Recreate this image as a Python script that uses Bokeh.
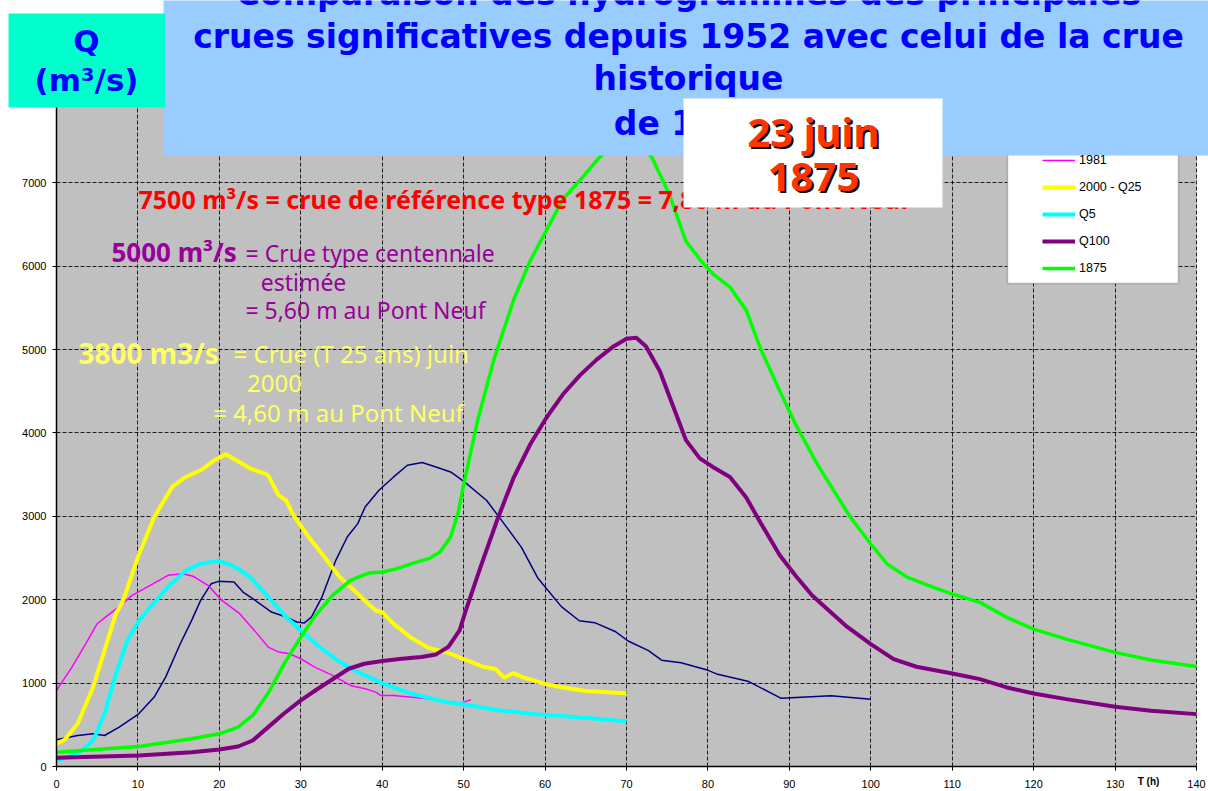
from bokeh.plotting import figure
from bokeh.models import Range1d, FixedTicker, BoxAnnotation, Label, Legend, LegendItem, Grid
from bokeh.embed import file_html
from bokeh.resources import INLINE

# ---------------- data ----------------
x_ticks = [0, 10, 20, 30, 40, 50, 60, 70, 80, 90, 100, 110, 120, 130, 140]
y_ticks = [0, 1000, 2000, 3000, 4000, 5000, 6000, 7000]

t_1952 = [0, 2.6, 4.5, 5.9, 7.7, 10.1, 12, 13.4, 15.2, 16.6, 17.7, 19, 19.9, 21.8, 22.9, 24.7,
          26.4, 28.2, 29.5, 30.4, 31.3, 32.6, 34.3, 35.7, 37, 37.9, 39.6, 41.4, 43.1, 44.9, 46.6,
          48.4, 50.1, 52.8, 54.5, 57.1, 59.1, 62, 64.2, 66.1, 68.6, 70.2, 72.7, 74.3, 76.7, 79.8,
          81.2, 84.9, 89, 95.1, 100]
q_1952 = [320, 372, 392, 372, 472, 632, 832, 1072, 1472, 1752, 1992, 2192, 2220, 2212, 2092, 1972,
          1852, 1792, 1732, 1720, 1792, 2032, 2472, 2752, 2912, 3112, 3312, 3472, 3612, 3644, 3592,
          3532, 3412, 3192, 2972, 2628, 2261, 1917, 1748, 1725, 1619, 1505, 1390, 1275, 1243, 1161,
          1105, 1023, 817, 849, 807]

t_1981 = [0, 1.9, 3.6, 5, 6.3, 7.6, 9.3, 11.5, 13.7, 15.5, 16.8, 18.6, 20.3, 22.5, 24.3, 26, 27.3,
          28.6, 30, 31.7, 33.9, 36.1, 37.9, 39.2, 39.8, 41.4, 45.7, 48.8, 50, 50.9]
q_1981 = [912, 1192, 1472, 1712, 1812, 1912, 2052, 2172, 2292, 2312, 2280, 2172, 1992, 1832, 1632,
          1432, 1372, 1352, 1292, 1192, 1092, 972, 932, 892, 852, 852, 812, 752, 772, 800]

t_2000 = [0, 1, 2.6, 4.5, 5.9, 7.3, 8.2, 10, 12, 14.2, 15.9, 17.7, 19.4, 20.8, 23.8, 25.6, 26, 27.3,
          28.2, 29.1, 30.4, 31.3, 32.6, 34.8, 37, 38.3, 39.2, 40, 41.4, 43.6, 45.7, 47.9, 50.1, 52.3,
          53.9, 55, 56.1, 57.2, 60, 62, 65, 70]
q_2000 = [272, 320, 512, 952, 1392, 1832, 1992, 2512, 2992, 3352, 3472, 3552, 3672, 3744, 3572, 3512,
          3490, 3250, 3190, 3010, 2830, 2710, 2550, 2270, 2070, 1950, 1870, 1850, 1710, 1540, 1420,
          1370, 1285, 1200, 1170, 1064, 1120, 1072, 990, 950, 905, 878]

t_q5 = [0, 2.6, 4.5, 5.9, 7.3, 8.7, 10.1, 11.5, 13.7, 15.9, 17.7, 19.9, 21.6, 23.8, 26, 28.2, 30.4,
        32.6, 34.8, 37, 40, 43.6, 47.9, 50.1, 54.5, 58.9, 62, 66, 70]
q_q5 = [72, 152, 312, 632, 1112, 1512, 1745, 1912, 2152, 2352, 2432, 2464, 2412, 2272, 2032, 1792,
        1592, 1412, 1252, 1132, 1000, 872, 772, 744, 672, 628, 605, 575, 541]

t_q100 = [0, 10.1, 16.6, 20, 22.3, 24.1, 26, 27.9, 30, 32.1, 34, 35.9, 37.8, 40, 42.4, 44.8, 46.6,
          48.1, 49.5, 50.2, 52.1, 54.1, 56.1, 58.2, 60.2, 62.2, 64.3, 66.3, 68.4, 70, 71.2, 72.4,
          74.1, 75.7, 77.3, 79, 80.6, 82.7, 84.7, 86.6, 88.8, 90.8, 92.8, 96.9, 100, 102.8, 105.6,
          110, 113.4, 116.7, 120, 124, 130, 134.4, 140]
q_q100 = [104, 132, 172, 204, 240, 312, 472, 632, 792, 932, 1052, 1172, 1232, 1264, 1292, 1312, 1344,
          1432, 1632, 1850, 2399, 2950, 3454, 3867, 4188, 4463, 4693, 4876, 5037, 5128, 5140, 5037,
          4739, 4326, 3913, 3695, 3592, 3472, 3225, 2900, 2537, 2284, 2050, 1690, 1468, 1288, 1196,
          1116, 1048, 948, 876, 808, 716, 668, 628]

t_1875 = [0, 10.1, 16.6, 20, 22.3, 24.1, 26, 28, 30, 31.7, 33.9, 36.1, 38.3, 40, 41.8, 43.6, 45.7,
          47.1, 48.4, 49.3, 50, 51.7, 53.7, 56.2, 58.2, 60.2, 62.2, 64.3, 66.7, 68.5, 70, 71.5, 73.1,
          75.3, 77.3, 79.1, 80.6, 82.7, 84.7, 86.5, 88.8, 90.8, 93.4, 97.5, 100, 102, 104.5, 107.7,
          110, 113.4, 116.7, 120, 124, 130, 134.4, 140]
q_1875 = [172, 240, 332, 392, 472, 612, 880, 1240, 1550, 1800, 2052, 2232, 2320, 2332, 2372, 2432,
          2492, 2572, 2752, 3032, 3380, 4142, 4876, 5610, 6069, 6436, 6803, 7032, 7307, 7470, 7540,
          7490, 7307, 6849, 6298, 6068, 5908, 5748, 5472, 5000, 4509, 4096, 3628, 2988, 2668, 2428,
          2268, 2148, 2068, 1968, 1788, 1648, 1528, 1368, 1276, 1200]

series_names = ["1981", "2000 - Q25", "Q5", "Q100", "1875"]

# ---------------- layout ----------------
W, H = 1208, 791
PXH = 8.143     # pixels per hour
PXQ = 0.0834    # pixels per m3/s
X0, Y0 = 56, 766  # canvas pixel of the origin


def dx(px):  # page pixel -> data x
    return (px - X0) / PXH


def dy(py):  # page pixel -> data y
    return (Y0 - py) / PXQ


p = figure(width=W, height=H,
           x_range=Range1d(-X0 / PXH, (W - X0) / PXH),
           y_range=Range1d(-(H - Y0) / PXQ, Y0 / PXQ),
           output_backend="svg", toolbar_location=None,
           min_border=0, min_border_left=0, min_border_right=0, min_border_top=0,
           min_border_bottom=0, background_fill_color="white", border_fill_color="white",
           outline_line_color=None)

# gray plotting area (drawn below everything)
p.add_layout(BoxAnnotation(left=0, right=x_ticks[-1], bottom=0, top=8000, fill_color="#C0C0C0",
                           fill_alpha=1, line_color=None, level="image"))

p.xaxis.fixed_location = 0
p.yaxis.fixed_location = 0
p.xaxis.bounds = (0, x_ticks[-1])
p.yaxis.bounds = (0, 8000)
p.xaxis.ticker = FixedTicker(ticks=x_ticks)
p.yaxis.ticker = FixedTicker(ticks=y_ticks)
for ax in (p.xaxis, p.yaxis):
    ax.axis_line_color = "black"
    ax.axis_line_width = 1.5
    ax.major_tick_in = 0
    ax.minor_tick_line_color = None
    ax.major_label_text_font = "Liberation Sans"
    ax.major_label_text_font_size = "11px"
    ax.major_label_text_color = "black"
p.xaxis.major_tick_out = 4
p.xaxis.major_label_standoff = 9
p.yaxis.major_tick_out = 4
p.yaxis.major_label_standoff = 6

grid_props = dict(grid_line_color="black", grid_line_dash="4 2", grid_line_width=1,
                  grid_line_alpha=0.85)
if "cross_bounds" in Grid.properties():
    p.xgrid.cross_bounds = (0, 8000)
    p.ygrid.cross_bounds = (0, x_ticks[-1])
    for g in (p.xgrid, p.ygrid):
        for k, v in grid_props.items():
            setattr(g, k, v)
else:
    p.grid.visible = False
    p.segment(x0=x_ticks, y0=[0] * len(x_ticks), x1=x_ticks, y1=[8000] * len(x_ticks),
              line_color="black", line_dash="4 2", line_width=1, line_alpha=0.85)
    p.segment(x0=[0] * len(y_ticks), y0=y_ticks, x1=[x_ticks[-1]] * len(y_ticks), y1=y_ticks,
              line_color="black", line_dash="4 2", line_width=1, line_alpha=0.85)

# ---------------- curves ----------------
r_1952 = p.line(t_1952, q_1952, line_color="#000080", line_width=1.5)
r_1981 = p.line(t_1981, q_1981, line_color="#FF00FF", line_width=1.5)
r_2000 = p.line(t_2000, q_2000, line_color="#FFFF00", line_width=4)
r_q5 = p.line(t_q5, q_q5, line_color="#00FFFF", line_width=4)
r_q100 = p.line(t_q100, q_q100, line_color="#800080", line_width=4)
r_1875 = p.line(t_1875, q_1875, line_color="#00FF00", line_width=3.5)


# ---------------- annotations ----------------
def lab(x, py, text, color, size, bold=False, align="left", font="Noto Sans",
        level="annotation", xo=0, yo=0):
    """Label whose alphabetic baseline sits at page pixel row py."""
    l = Label(x=x, y=dy(py), text=text, text_color=color, text_font=font,
              text_font_size="%dpx" % size, text_font_style="bold" if bold else "normal",
              text_align=align, text_baseline="alphabetic", level=level,
              x_offset=xo, y_offset=round(0.4 * size) + yo)
    p.add_layout(l)
    return l


lab(dx(138), 208, "7500 m³/s = crue de référence type 1875 = 7,80 m au Pont Neuf",
    "#FF0000", 25, bold=True)

lab(dx(111), 261, "5000 m³/s", "#990099", 26, bold=True)
lab(dx(245), 261, "= Crue type centennale", "#990099", 23)
lab(dx(303), 290, "estimée", "#990099", 23, align="center")
lab(dx(365), 318, "= 5,60 m au Pont Neuf", "#990099", 23, align="center")

lab(dx(78), 363, "3800 m3/s", "#FFFF66", 28, bold=True)
lab(dx(233), 363, "= Crue (T 25 ans) juin", "#FFFF66", 24)
lab(dx(274), 393, "2000", "#FFFF66", 24, align="center")
lab(dx(338), 422, "= 4,60 m au Pont Neuf", "#FFFF66", 24, align="center")

# legend frame + legend
p.add_layout(BoxAnnotation(left=dx(1007), right=dx(1178), bottom=dy(283), top=dy(120),
                           fill_color="white", fill_alpha=1, line_color="#404040", line_width=1.5))
legend = Legend(items=[LegendItem(label=series_names[0], renderers=[r_1981]),
                       LegendItem(label=series_names[1], renderers=[r_2000]),
                       LegendItem(label=series_names[2], renderers=[r_q5]),
                       LegendItem(label=series_names[3], renderers=[r_q100]),
                       LegendItem(label=series_names[4], renderers=[r_1875])],
                location=(1042, H - 278), orientation="vertical",
                background_fill_alpha=0, border_line_color=None, padding=0, margin=0,
                spacing=7, glyph_width=33, glyph_height=20, label_height=20, label_standoff=4,
                label_text_font="Liberation Sans", label_text_font_size="12.5px",
                label_text_color="black")
p.add_layout(legend)

# axis unit label
p.add_layout(Label(x=dx(1148), y=dy(781), text="T (h)", text_color="black",
                   text_font="Liberation Sans", text_font_size="10px", text_font_style="bold",
                   text_align="center", text_baseline="middle"))

# ---------------- overlay boxes (in stacking order) ----------------
p.add_layout(BoxAnnotation(left=dx(163), right=dx(1220), bottom=dy(155), top=dy(-20),
                           fill_color="#99CCFF", fill_alpha=1, line_color=None, level="overlay"))
p.add_layout(BoxAnnotation(left=dx(8), right=dx(165), bottom=dy(107), top=dy(13),
                           fill_color="#00FFCC", fill_alpha=1, line_color=None, level="overlay"))

title_lines = ["Comparaison des hydrogrammes des principales",
               "crues significatives depuis 1952 avec celui de la crue",
               "historique",
               "de 1875"]
for txt, base in zip(title_lines, [6, 49, 91, 136]):
    lab(dx(688), base, txt, "#0000FF", 33, bold=True, align="center", font="DejaVu Sans",
        level="overlay")

lab(dx(86), 52, "Q", "#0000FF", 31, bold=True, align="center", font="DejaVu Sans",
    level="overlay")
lab(dx(86), 91, "(m³/s)", "#0000FF", 31, bold=True, align="center", font="DejaVu Sans",
    level="overlay")

# white date box, on top of the title
p.add_layout(BoxAnnotation(left=dx(683), right=dx(942), bottom=dy(207), top=dy(98),
                           fill_color="white", fill_alpha=1, line_color=None, level="overlay"))
for txt, base in [("23 juin", 147), ("1875", 192)]:
    lab(dx(813), base, txt, "black", 40, bold=True, align="center", level="overlay",
        xo=2, yo=-2)
    lab(dx(813), base, txt, "#FF3300", 40, bold=True, align="center", level="overlay")

open("out.html", "w").write(file_html(p, INLINE))
